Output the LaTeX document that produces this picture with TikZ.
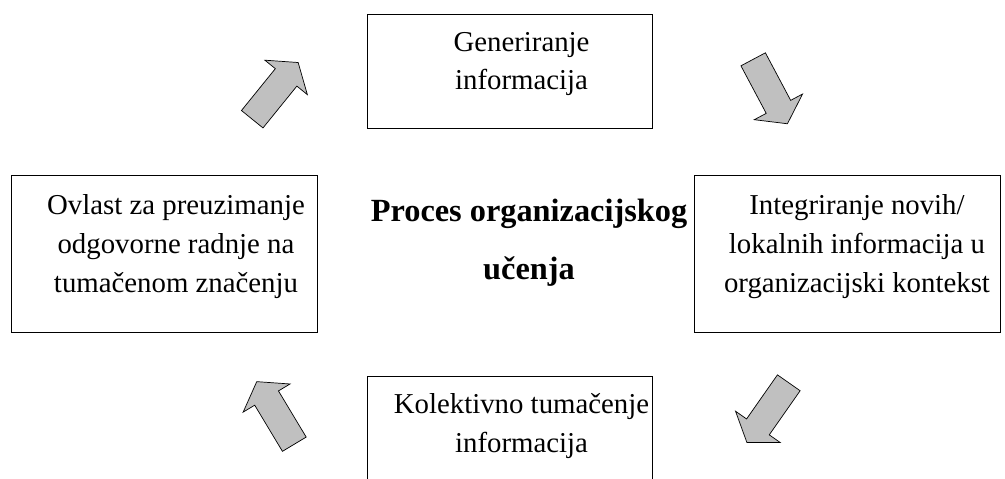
\documentclass[tikz,border=0pt]{standalone}
\usepackage{fontspec}
\setmainfont{Liberation Serif}
\usetikzlibrary{shapes,arrows.meta,positioning}
\definecolor{sivo}{HTML}{C0C0C0}
\tikzset{
    x=0.02cm, y=-0.02cm, line width=1.1pt,
    kutija/.style={rectangle, draw},
    tekst/.style={align=center, font=\fontsize{16.4}{22.1}\selectfont},
    naslov/.style={align=center, font=\bfseries\fontsize{18.4}{32.9}\selectfont},
    strelica/.style={single arrow, draw, fill=sivo, anchor=tail, inner xsep=0pt, inner ysep=0.27cm,
        single arrow head extend=0.27cm, single arrow tip angle=110, single arrow head indent=0pt,
        minimum height=1.46cm}
}

\begin{document}
\begin{tikzpicture}
	\useasboundingbox (0,0) rectangle (1005,478);
	\clip (0,0) rectangle (1005,478);
	\node[kutija, minimum width=5.7cm, minimum height=2.28cm] (gen) at (509.5,71) {};
	\node[kutija, minimum width=6.12cm, minimum height=3.14cm] (int) at (847,253.5) {};
	\node[kutija, minimum width=5.7cm, minimum height=2.28cm] (tum) at (509.5,433) {};
	\node[kutija, minimum width=6.12cm, minimum height=3.14cm] (ovl) at (164,253.5) {};
	\node[tekst] (gentxt) at ([shift={(12,-7)}]gen.center) {Generiranje\\informacija};
	\node[tekst] (inttxt) at ([shift={(10,-7)}]int.center) {Integriranje novih/\\lokalnih informacija u\\organizacijski kontekst};
	\node[tekst] (tumtxt) at ([shift={(12,-7)}]tum.center) {Kolektivno tumačenje\\informacija};
	\node[tekst] (ovltxt) at ([shift={(12,-7)}]ovl.center) {Ovlast za preuzimanje\\odgovorne radnje na\\tumačenom značenju};
	\node[naslov] (proces) at (529,243) {Proces organizacijskog\\učenja};

	% strelice u krug
	\node[strelica, rotate=51] (s1) at (252,119.5) {};
	\node[strelica, rotate=-62] (s2) at (753,59) {};
	\node[strelica, rotate=235] (s3) at (789,382.5) {};
	\node[strelica, rotate=121] (s4) at (294.5,444.5) {};
\end{tikzpicture}
\end{document}
